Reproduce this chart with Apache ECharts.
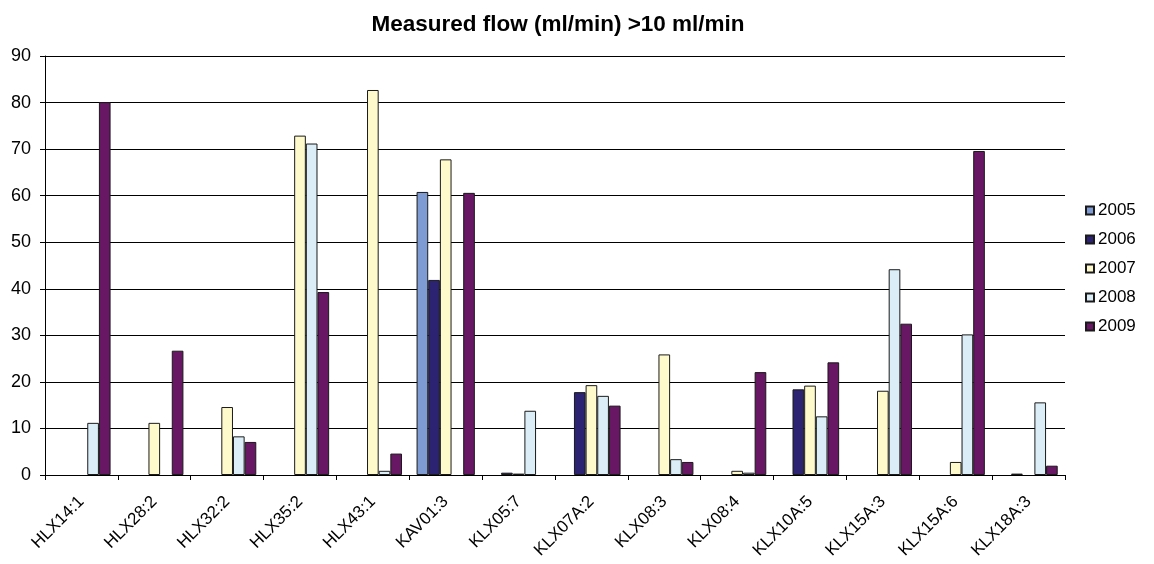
<!DOCTYPE html>
<html>
<head>
<meta charset="utf-8">
<script src="https://cdn.jsdelivr.net/npm/echarts@6/dist/echarts.min.js"></script>
<style>
html,body{margin:0;padding:0;background:#fff;}
#chart{width:1154px;height:564px;}
</style>
</head>
<body>
<div id="chart"></div>
<script>
const categories = ['HLX14:1','HLX28:2','HLX32:2','HLX35:2','HLX43:1','KAV01:3','KLX05:7','KLX07A:2','KLX08:3','KLX08:4','KLX10A:5','KLX15A:3','KLX15A:6','KLX18A:3'];
const years = ['2005','2006','2007','2008','2009'];
const v2005 = [null,null,null,null,null,60.8,null,null,null,null,null,null,null,null];
const v2006 = [null,null,null,null,null,41.9,0.5,17.8,null,null,18.4,null,null,0.3];
const v2007 = [null,11.2,14.6,72.9,82.7,67.8,0.3,19.3,25.9,0.9,19.2,18.1,2.8,null];
const v2008 = [11.2,null,8.3,71.2,0.9,null,13.8,17.0,3.4,0.5,12.6,44.2,30.2,15.6];
const v2009 = [80.1,26.7,7.1,39.3,4.6,60.6,null,14.9,2.8,22.1,24.2,32.5,69.6,2.0];
const yTicks = [0,10,20,30,40,50,60,70,80,90];
const colors = ['#7f9bd3','#2c2372','#fffacb','#dbeef8','#671763'];
const seriesValues = [v2005,v2006,v2007,v2008,v2009];

const chart = echarts.init(document.getElementById('chart'), null, {renderer:'canvas'});
const font = 'Liberation Sans, Arial, sans-serif';
chart.setOption({
  animation:false,
  backgroundColor:'#fff',
  title:{
    text:'Measured flow (ml/min) >10 ml/min',
    left:553, top:8, textAlign:'center',
    textStyle:{fontFamily:font,fontSize:22.5,fontWeight:'bold',color:'#000'}
  },
  legend:{
    orient:'vertical', left:1080, top:197, itemGap:12,
    itemWidth:8, itemHeight:8, icon:'rect',
    textStyle:{fontFamily:font,fontSize:17,color:'#000',padding:[0,0,0,-1]},
    data:years
  },
  grid:{left:45, right:1154-1065, top:56, bottom:564-475, containLabel:false},
  xAxis:{
    type:'category', data:categories, boundaryGap:true,
    axisLine:{lineStyle:{color:'#000',width:1}},
    axisTick:{show:true,alignWithLabel:false,length:5,lineStyle:{color:'#000'}},
    axisLabel:{rotate:45,fontFamily:font,fontSize:17,color:'#000',margin:24,interval:0},
    splitLine:{show:false}
  },
  yAxis:{
    type:'value', min:0, max:90, interval:10,
    axisLine:{show:true,lineStyle:{color:'#000',width:1}},
    axisTick:{show:true,length:5,lineStyle:{color:'#000'}},
    axisLabel:{fontFamily:font,fontSize:18,color:'#000',margin:14,
      formatter:function(v){return yTicks.indexOf(v)>=0?String(v):'';}},
    splitLine:{show:true,lineStyle:{color:'#000',width:1}}
  },
  series: years.map(function(y,i){
    return {
      name:y, type:'bar', data:seriesValues[i],
      barGap:'0%', barCategoryGap:'20%',
      itemStyle:{color:colors[i],borderColor:'#1a1a1a',borderWidth:1}
    };
  })
});
</script>
</body>
</html>
